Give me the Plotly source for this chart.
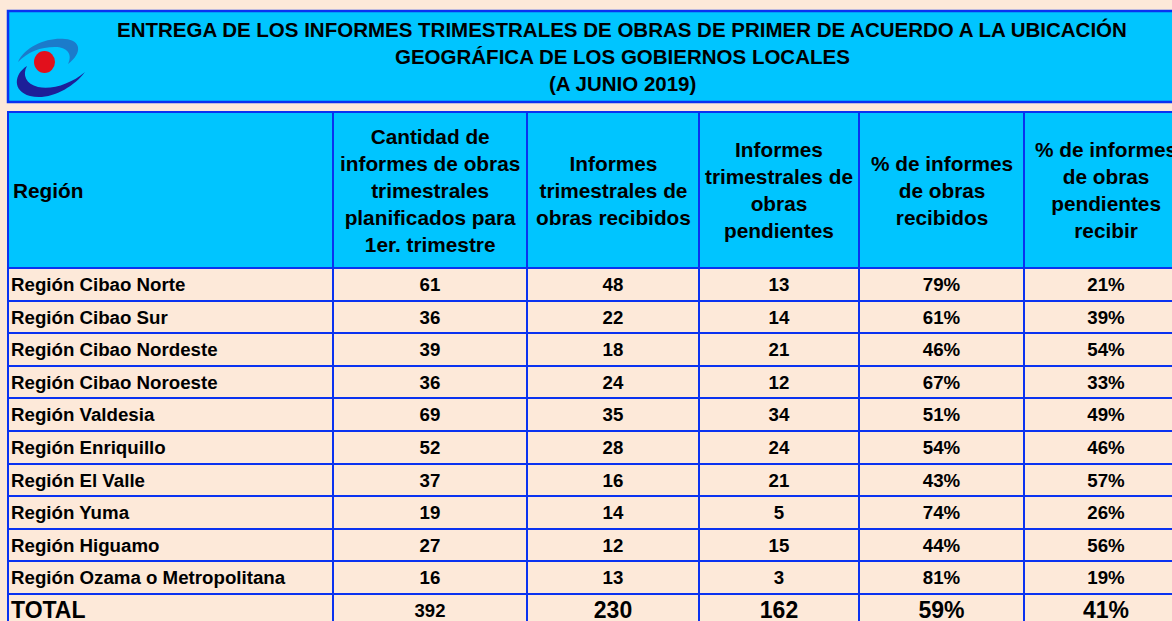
import plotly.graph_objects as go

# ---------------- data ----------------
regions = [
    "Región Cibao Norte", "Región Cibao Sur", "Región Cibao Nordeste",
    "Región Cibao Noroeste", "Región Valdesia", "Región Enriquillo",
    "Región El Valle", "Región Yuma", "Región Higuamo",
    "Región Ozama o Metropolitana",
]
planned = [61, 36, 39, 36, 69, 52, 37, 19, 27, 16]
received = [48, 22, 18, 24, 35, 28, 16, 14, 12, 13]
pending = [13, 14, 21, 12, 34, 24, 21, 5, 15, 3]
pct_received = [79, 61, 46, 67, 51, 54, 43, 74, 44, 81]
pct_pending = [21, 39, 54, 33, 49, 46, 57, 26, 56, 19]
total_label = "TOTAL"
total_planned = 392
total_received = 230
total_pending = 162
total_pct_received = 59
total_pct_pending = 41

title_lines = [
    "ENTREGA DE LOS INFORMES TRIMESTRALES DE OBRAS DE PRIMER DE ACUERDO A LA UBICACIÓN",
    "GEOGRÁFICA DE LOS GOBIERNOS LOCALES",
    "(A JUNIO 2019)",
]
header_labels = [
    "Región",
    "Cantidad de<br>informes de obras<br>trimestrales<br>planificados para<br>1er. trimestre",
    "Informes<br>trimestrales de<br>obras recibidos",
    "Informes<br>trimestrales de<br>obras<br>pendientes",
    "% de informes<br>de obras<br>recibidos",
    "% de informes<br>de obras<br>pendientes<br>recibir",
]

# ---------------- style / layout constants (pixels) ----------------
W, H = 1172, 621
BG = "#FDE9D9"
CYAN = "#00C5FF"
BLUE = "#0A32F0"
FONT = "Liberation Sans"
col_edges = [8, 333, 527, 699, 859, 1024, 1188]   # last edge lies past the window
title_box = (8, 11, 1192, 102)
title_x, title_y0, title_dy, title_size = 622, 30, 27, 20.5
table_top = 112
header_h = 156
row_h = 32.6
header_size = 20.8
body_size = 18.7
total_size = 23
total_small_size = 18.5
text_pad = 3
text_dy = 2
line_w = 2.3

body_top = table_top + header_h
n_rows = len(regions) + 1
row_bounds = [body_top + k * row_h for k in range(n_rows + 1)]
row_centers = [(row_bounds[k] + row_bounds[k + 1]) / 2 + text_dy for k in range(n_rows)]
col_centers = [(col_edges[k] + col_edges[k + 1]) / 2 for k in range(len(col_edges) - 1)]

n = len(regions)
columns = [
    [str(r) for r in regions] + [total_label],
    [str(v) for v in planned] + [str(total_planned)],
    [str(v) for v in received] + [str(total_received)],
    [str(v) for v in pending] + [str(total_pending)],
    [f"{v}%" for v in pct_received] + [f"{total_pct_received}%"],
    [f"{v}%" for v in pct_pending] + [f"{total_pct_pending}%"],
]
col_sizes = [
    [body_size] * n + [total_size],
    [body_size] * n + [total_small_size],
    [body_size] * n + [total_size],
    [body_size] * n + [total_size],
    [body_size] * n + [total_size],
    [body_size] * n + [total_size],
]

fig = go.Figure()
for k, (vals, sizes) in enumerate(zip(columns, col_sizes)):
    if k == 0:
        xs, pos = [col_edges[0] + text_pad] * len(vals), "middle right"
    else:
        xs, pos = [col_centers[k]] * len(vals), "middle center"
    fig.add_trace(go.Scatter(
        x=xs, y=row_centers, mode="text",
        text=[f"<b>{v}</b>" for v in vals],
        textposition=pos,
        textfont=dict(family=FONT, size=sizes, color="black"),
        hoverinfo="skip", showlegend=False,
    ))


def X(px):
    return px / W


def Y(py):
    return 1 - py / H


def path(pts_cmds):
    out = []
    for cmd, pts in pts_cmds:
        coords = " ".join(f"{X(px):.5f},{Y(py):.5f}" for px, py in pts)
        out.append(f"{cmd} {coords}")
    return " ".join(out) + " Z"


shapes = [
    dict(type="rect", xref="paper", yref="paper",
         x0=X(title_box[0]), y0=Y(title_box[1]), x1=X(title_box[2]), y1=Y(title_box[3]),
         fillcolor=CYAN, line=dict(color=BLUE, width=2.5), layer="below"),
    dict(type="rect", xref="x", yref="y",
         x0=col_edges[0], x1=col_edges[-1] + 10, y0=table_top, y1=body_top,
         fillcolor=CYAN, line=dict(width=0), layer="below"),
]

# logo: two swooshes and a red dot
upper_swoosh = path([
    ("M", [(18, 62)]),
    ("C", [(25, 46), (48, 37), (65, 39)]),
    ("C", [(81, 40), (83, 53), (68, 64)]),
    ("C", [(73, 54), (67, 47), (55, 47)]),
    ("C", [(40, 47), (28, 52), (18, 62)]),
])
lower_swoosh = path([
    ("M", [(27, 66)]),
    ("C", [(14, 74), (12, 91), (30, 96)]),
    ("C", [(49, 101), (73, 88), (85, 72)]),
    ("C", [(71, 84), (52, 90), (38, 87)]),
    ("C", [(26, 84), (22, 75), (27, 66)]),
])
shapes += [
    dict(type="path", xref="paper", yref="paper", path=upper_swoosh,
         fillcolor="#1B7BCB", line=dict(width=0), layer="above"),
    dict(type="path", xref="paper", yref="paper", path=lower_swoosh,
         fillcolor="#1D1F98", line=dict(width=0), layer="above"),
    dict(type="circle", xref="paper", yref="paper",
         x0=X(34), x1=X(55), y0=Y(51), y1=Y(73),
         fillcolor="#E2101C", line=dict(width=0), layer="above"),
]

annotations = []
for i, line in enumerate(title_lines):
    annotations.append(dict(
        text=f"<b>{line}</b>", xref="paper", yref="paper",
        x=X(title_x), y=Y(title_y0 + i * title_dy),
        xanchor="center", yanchor="middle", showarrow=False,
        font=dict(family=FONT, size=title_size, color="black"),
    ))

header_mid = table_top + header_h / 2
for i, lab in enumerate(header_labels):
    if i == 0:
        ax, anc, al = col_edges[0] + text_pad, "left", "left"
    else:
        ax, anc, al = col_centers[i], "center", "center"
    annotations.append(dict(
        text=lab, xref="x", yref="y", x=ax, y=header_mid,
        xanchor=anc, yanchor="middle", align=al, showarrow=False,
        font=dict(family=FONT, size=header_size, color="black", weight="bold"),
    ))

grid = dict(showgrid=True, gridcolor=BLUE, gridwidth=line_w, zeroline=False,
            showticklabels=False, ticks="", showline=False, fixedrange=True)

fig.update_layout(
    width=W, height=H,
    margin=dict(l=0, r=0, t=0, b=0),
    paper_bgcolor=BG, plot_bgcolor=BG,
    xaxis=dict(domain=[X(col_edges[0] - 1.5), 1], range=[col_edges[0] - 1.5, W],
               tickmode="array", tickvals=col_edges[:-1], **grid),
    yaxis=dict(domain=[0, Y(table_top - 1.5)], range=[H, table_top - 1.5],
               tickmode="array", tickvals=[table_top] + row_bounds[:-1], **grid),
    shapes=shapes, annotations=annotations,
    showlegend=False,
)

fig.write_html(
    "out.html",
    config={"displayModeBar": False},
    post_script=f"document.body.style.margin='0';document.body.style.background='{BG}';",
)
